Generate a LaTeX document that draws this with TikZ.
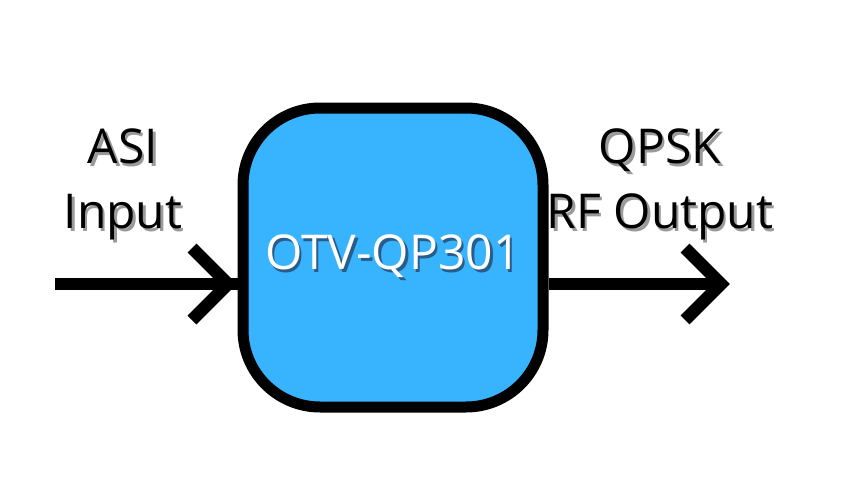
\documentclass[tikz,border=0pt]{standalone}
\usepackage{fontspec}
\setmainfont{Open Sans}
\definecolor{boxblue}{HTML}{38B4FF}
\definecolor{shgray}{HTML}{9A9A9A}
\definecolor{shblue}{HTML}{2A5C8A}
\newcommand{\shtxt}[2]{\makebox[0pt][l]{\hspace{2.5pt}\raisebox{-2.5pt}{\textcolor{#1}{#2}}}#2}
\tikzset{
  unitbox/.style={draw=black,line width=11pt,fill=boxblue,rounded corners=77pt,
    minimum width=300pt,minimum height=299pt,inner sep=0pt,text=white},
  lbl/.style={align=center,font=\fontsize{48}{65}\selectfont,inner sep=0pt},
  arr/.style={line width=12.5pt},
  head/.style={line width=12.5pt,miter limit=10}
}
\begin{document}
\begin{tikzpicture}[x=1pt,y=-1pt]
  \useasboundingbox (0,0) rectangle (849,479);
  \node[unitbox,font=\fontsize{48}{65}\selectfont] (box) at (393,257.5) {\shtxt{shblue}{OTV-QP301}};
  \node[lbl] (asi) at (123,186) {\shtxt{shgray}{ASI}\\\shtxt{shgray}{Input}};
  \node[lbl] (qpsk) at (660,186) {\shtxt{shgray}{QPSK}\\\shtxt{shgray}{RF Output}};
  \coordinate (inL) at (55,284);
  \coordinate (tipL) at (228,284);
  \coordinate (tipR) at (721,284);
  % input arrow
  \draw[arr] (inL) -- (box.west |- inL);
  \draw[head] (tipL) +(-36,-36) -- (tipL) -- +(-36,36);
  % output arrow
  \draw[arr] (box.east |- tipR) -- (tipR);
  \draw[head] (tipR) +(-36,-36) -- (tipR) -- +(-36,36);
\end{tikzpicture}
\end{document}
